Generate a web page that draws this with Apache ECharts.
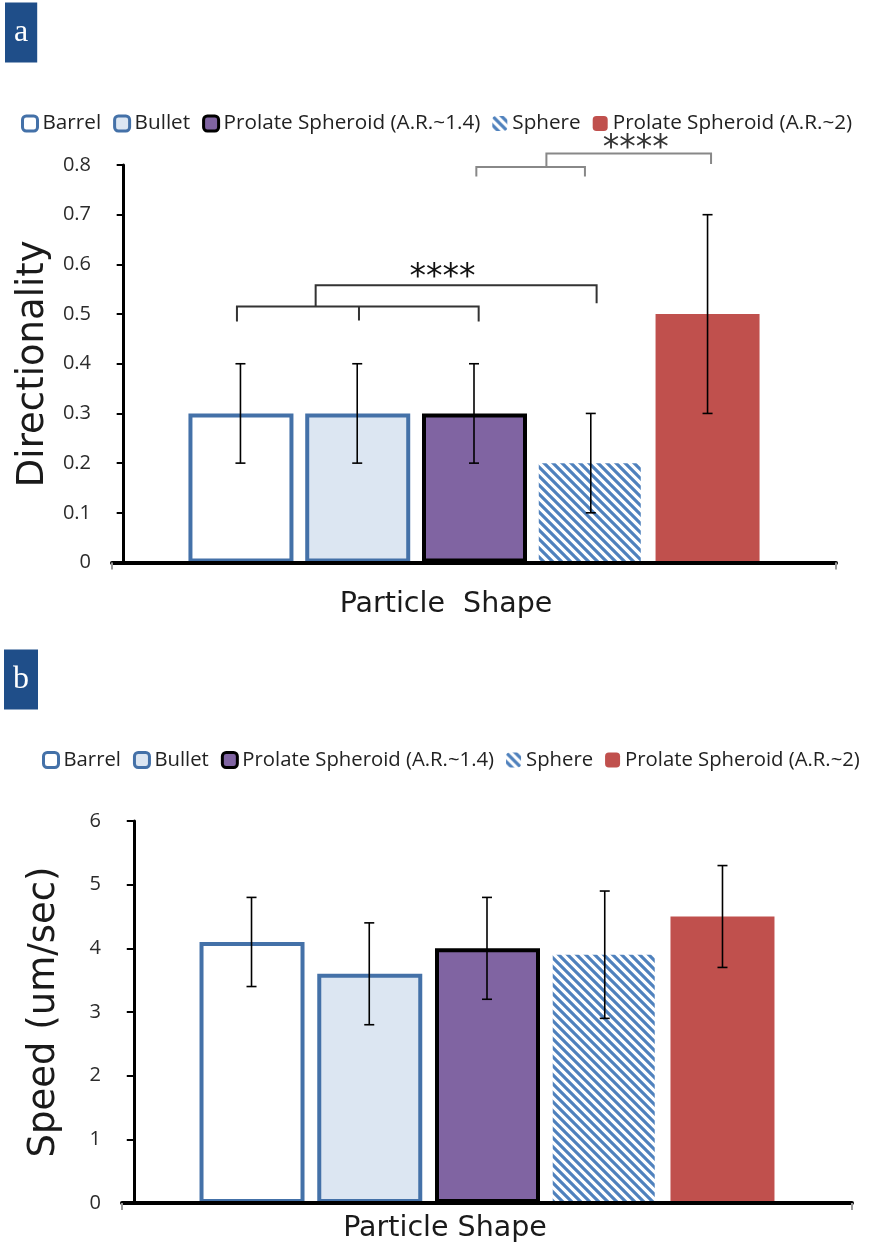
<!DOCTYPE html>
<html>
<head>
<meta charset="utf-8">
<script src="https://cdn.jsdelivr.net/npm/echarts@6/dist/echarts.min.js"></script>
<style>
  html, body { margin: 0; padding: 0; background: #fff; }
  #chart { width: 873px; height: 1251px; }
</style>
</head>
<body>
<div id="chart"></div>
<script>
// 数据
const shapeNames = ['Barrel', 'Bullet', 'Prolate Spheroid (A.R.~1.4)', 'Sphere', 'Prolate Spheroid (A.R.~2)'];
const shapePos = [1, 2, 3, 4, 5];

// panel a: directionality
const dirMean = [0.3, 0.3, 0.3, 0.2, 0.5];
const dirLow = [0.2, 0.2, 0.2, 0.1, 0.3];
const dirHigh = [0.4, 0.4, 0.4, 0.3, 0.7];

// panel b: speed
const speedMean = [4.1, 3.6, 4.0, 3.9, 4.5];
const speedLow = [3.4, 2.8, 3.2, 2.9, 3.7];
const speedHigh = [4.8, 4.4, 4.8, 4.9, 5.3];

// significance brackets: [xLeft, xRight, yTop, yLeftEnd, yRightEnd]
const bracketsLow = [[0.97, 3.04, 0.515, 0.485, 0.485], [2.015, 2.015, 0.515, 0.487, 0.487], [1.644, 4.05, 0.558, 0.515, 0.522]];
const bracketsHigh = [[3.02, 3.95, 0.796, 0.777, 0.777], [3.62, 5.03, 0.823, 0.796, 0.802]];
const starsLow = [[2.73, 0.572]];
const starsHigh = [[4.385, 0.832]];

const blue = '#4471a8';

// 斜线填充
function makeStripes() {
  const c = document.createElement('canvas');
  c.width = 9; c.height = 9;
  const ctx = c.getContext('2d');
  ctx.fillStyle = '#fff';
  ctx.fillRect(0, 0, 9, 9);
  ctx.strokeStyle = '#4f81bd';
  ctx.lineWidth = 3.2;
  ctx.beginPath();
  for (let k = -1; k <= 1; k++) {
    ctx.moveTo(k * 9 - 2, -2);
    ctx.lineTo(k * 9 + 11, 11);
  }
  ctx.stroke();
  return c;
}
const stripes = { image: makeStripes(), repeat: 'repeat' };

const barStyles = [
  { color: '#fff', borderColor: blue, borderWidth: 4 },
  { color: '#dce6f2', borderColor: blue, borderWidth: 4 },
  { color: '#8064a2', borderColor: '#000', borderWidth: 4 },
  { color: stripes, borderWidth: 0 },
  { color: '#c0504d', borderWidth: 0 }
];
const barWidths = [105, 105, 105, 102, 104];
const legendStyles = [
  { color: '#fff', borderColor: blue, borderWidth: 3 },
  { color: '#dce6f2', borderColor: blue, borderWidth: 3 },
  { color: '#8064a2', borderColor: '#000', borderWidth: 3 },
  { color: stripes, borderWidth: 0 },
  { color: '#c0504d', borderWidth: 0 }
];

function errorItem(params, api) {
  const x = api.value(0);
  const lo = api.coord([x, api.value(1)]);
  const hi = api.coord([x, api.value(2)]);
  const w = 5;
  const st = { stroke: '#000', lineWidth: 1.6 };
  return {
    type: 'group',
    children: [
      { type: 'line', shape: { x1: lo[0], y1: lo[1], x2: hi[0], y2: hi[1] }, style: st },
      { type: 'line', shape: { x1: lo[0] - w, y1: lo[1], x2: lo[0] + w, y2: lo[1] }, style: st },
      { type: 'line', shape: { x1: hi[0] - w, y1: hi[1], x2: hi[0] + w, y2: hi[1] }, style: st }
    ]
  };
}

function bracketItem(color) {
  return function (params, api) {
    const p1 = api.coord([api.value(0), api.value(3)]);
    const p2 = api.coord([api.value(0), api.value(2)]);
    const p3 = api.coord([api.value(1), api.value(2)]);
    const p4 = api.coord([api.value(1), api.value(4)]);
    return {
      type: 'polyline',
      shape: { points: [p1, p2, p3, p4] },
      style: { stroke: color, lineWidth: 2, fill: null }
    };
  };
}

function starItem(color) {
  return function (params, api) {
    const p = api.coord([api.value(0), api.value(1)]);
    return {
      type: 'text',
      style: {
        text: '****', x: p[0], y: p[1], fill: color,
        font: '33px "DejaVu Sans"', align: 'center', verticalAlign: 'middle'
      }
    };
  };
}

function barSeries(axisIdx, means) {
  return shapeNames.map((name, i) => ({
    name: name,
    type: 'bar',
    xAxisIndex: axisIdx,
    yAxisIndex: axisIdx,
    barWidth: barWidths[i],
    barGap: '-100%',
    itemStyle: barStyles[i],
    emphasis: { disabled: true },
    data: [[shapePos[i], means[i]]]
  }));
}

function errorSeries(axisIdx, low, high) {
  return {
    type: 'custom',
    xAxisIndex: axisIdx,
    yAxisIndex: axisIdx,
    z: 5,
    renderItem: errorItem,
    data: shapePos.map((x, i) => [x, low[i], high[i]])
  };
}

function xAxisCfg(gridIndex, name, gap, shift) {
  return {
    type: 'value', gridIndex: gridIndex, min: -0.1, max: 6.1, z: 10,
    axisLine: { show: true, lineStyle: { color: '#000', width: 4 } },
    axisTick: { show: true, customValues: [-0.1, 6.1], length: 7, lineStyle: { color: '#999', width: 2 } },
    axisLabel: { show: false },
    splitLine: { show: false },
    name: name, nameLocation: 'middle', nameGap: gap,
    nameTextStyle: { fontFamily: 'DejaVu Sans', fontSize: 28.5, color: '#1a1a1a', padding: [0, shift, 0, 0] }
  };
}

function yAxisCfg(gridIndex, max, interval, name, fmt) {
  return {
    type: 'value', gridIndex: gridIndex, min: 0, max: max, interval: interval,
    axisLine: { show: true, lineStyle: { color: '#000', width: 3 } },
    axisTick: { show: true, length: 7, lineStyle: { color: '#000', width: 2 } },
    axisLabel: { margin: 21, color: '#2b2b2b', fontFamily: 'Open Sans', fontSize: 20, formatter: fmt },
    splitLine: { show: false },
    name: name, nameLocation: 'middle', nameGap: 59, nameRotate: 90,
    nameTextStyle: { fontFamily: 'DejaVu Sans', fontSize: 37, color: '#1a1a1a' }
  };
}

function legendCfg(top, left, fontSize) {
  return {
    top: top, left: left, padding: 0, itemGap: 12, itemWidth: 15, itemHeight: 15,
    icon: 'roundRect', selectedMode: false,
    textStyle: { fontFamily: 'Open Sans', fontSize: fontSize, color: '#222' },
    data: shapeNames.map((n, i) => ({ name: n, itemStyle: legendStyles[i] }))
  };
}

function panelTitle(text, left, top) {
  return {
    text: text, left: left, top: top, backgroundColor: '#1f4e89', padding: [14, 9, 14, 9],
    textStyle: { color: '#fff', fontFamily: 'Liberation Serif', fontSize: 32, fontWeight: 'normal', lineHeight: 31 }
  };
}

const chart = echarts.init(document.getElementById('chart'));
chart.setOption({
  animation: false,
  backgroundColor: '#fff',
  title: [panelTitle('a', 5, 3), panelTitle('b', 4, 650)],
  legend: [legendCfg(113, 21, 20.7), legendCfg(750, 42, 20.3)],
  grid: [
    { left: 112, top: 165, width: 724, height: 397.5 },
    { left: 122, top: 821, width: 730, height: 382 }
  ],
  xAxis: [
    xAxisCfg(0, 'Particle  Shape', 28, 56),
    xAxisCfg(1, 'Particle Shape', 11, 84)
  ],
  yAxis: [
    yAxisCfg(0, 0.8, 0.1, 'Directionality', v => v === 0 ? '0' : v.toFixed(1)),
    yAxisCfg(1, 6, 1, 'Speed (um/sec)', v => String(v))
  ],
  series: [
    ...barSeries(0, dirMean),
    errorSeries(0, dirLow, dirHigh),
    { type: 'custom', xAxisIndex: 0, yAxisIndex: 0, z: 5, renderItem: bracketItem('#333'), data: bracketsLow },
    { type: 'custom', xAxisIndex: 0, yAxisIndex: 0, z: 5, renderItem: bracketItem('#888'), data: bracketsHigh },
    { type: 'custom', xAxisIndex: 0, yAxisIndex: 0, z: 5, renderItem: starItem('#111'), data: starsLow },
    { type: 'custom', xAxisIndex: 0, yAxisIndex: 0, z: 5, renderItem: starItem('#333'), data: starsHigh },
    ...barSeries(1, speedMean),
    errorSeries(1, speedLow, speedHigh)
  ]
});
</script>
</body>
</html>
